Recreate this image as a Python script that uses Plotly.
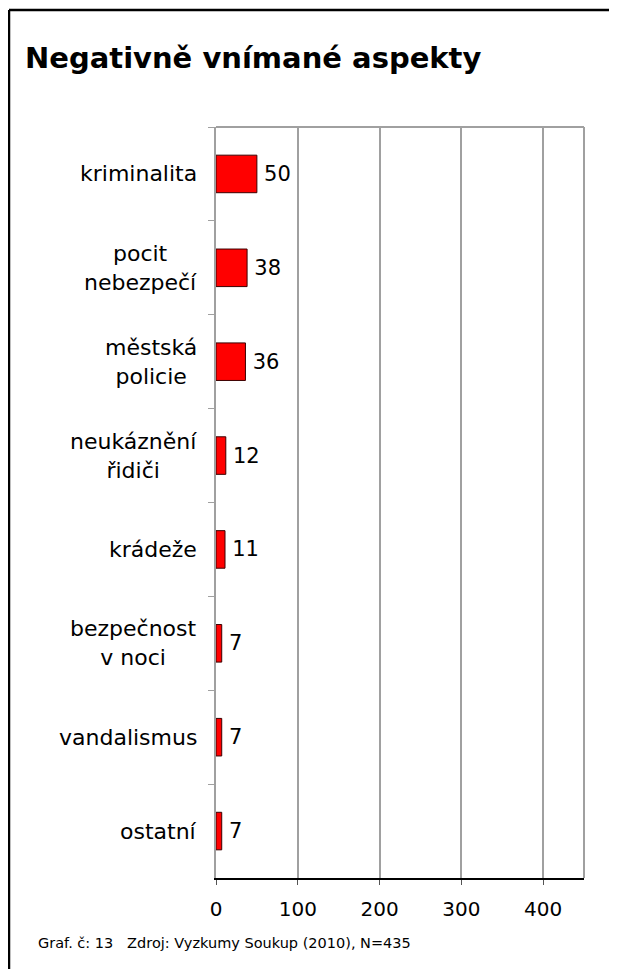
import plotly.graph_objects as go

categories = ["kriminalita", "pocit<br>nebezpečí", "městská<br>policie", "neukáznění<br>řidiči",
              "krádeže", "bezpečnost<br>v noci", "vandalismus", "ostatní"]
values = [50, 38, 36, 12, 11, 7, 7, 7]
x_ticks = [0, 100, 200, 300, 400]

W, H = 617, 969
OFF = 8  # page body margin
# plot area in page pixels: left 216, right 584, top 127, bottom 878
L, R, T, B = 216 - OFF, W - (584 - OFF), 127 - OFF, H - (878 - OFF)
pw, ph = W - L - R, H - T - B

def px_x(p):  # page pixel -> paper
    return (p - OFF - L) / pw

def px_y(p):
    return 1 - (p - OFF - T) / ph

font = "DejaVu Sans, Verdana, sans-serif"

fig = go.Figure(go.Bar(
    x=values, y=categories, orientation="h",
    marker=dict(color="#FF0000", line=dict(color="#3a0000", width=1)),
    text=["\u2009" + str(v) for v in values], textposition="outside",
    textfont=dict(size=21, color="black", family=font),
    cliponaxis=False, width=0.4,
))

shapes = [
    dict(type="line", xref="paper", yref="paper", x0=px_x(9), x1=px_x(640), y0=px_y(10), y1=px_y(10),
         line=dict(color="black", width=2.5)),
    dict(type="line", xref="paper", yref="paper", x0=px_x(9), x1=px_x(9), y0=px_y(10), y1=px_y(990),
         line=dict(color="black", width=2.5)),
    dict(type="line", xref="paper", yref="paper", x0=0, x1=1, y0=1, y1=1,
         line=dict(color="#a0a0a0", width=2), layer="below"),
    dict(type="line", xref="paper", yref="paper", x0=1, x1=1, y0=0, y1=1,
         line=dict(color="#a0a0a0", width=2), layer="below"),
]

annotations = []
for c in categories:
    annotations.append(dict(x=px_x(199), y=c, xref="paper", yref="y", text=c, showarrow=False,
                            xanchor="right", yanchor="middle", align="center",
                            font=dict(size=22, color="black", family=font)))
annotations.append(dict(x=px_x(36), y=px_y(943), xref="paper", yref="paper",
                        text="Graf. č: 13   Zdroj: Vyzkumy Soukup (2010), N=435",
                        showarrow=False, xanchor="left", yanchor="middle",
                        font=dict(size=14.5, color="black", family=font)))

fig.update_layout(
    width=W, height=H,
    margin=dict(l=L, r=R, t=T, b=B, pad=0),
    paper_bgcolor="white", plot_bgcolor="white",
    showlegend=False,
    title=dict(text="<b>Negativně vnímané aspekty</b>", x=(25 - OFF) / W, xref="container", xanchor="left",
               y=1 - (58 - OFF) / H, yref="container", yanchor="middle",
               font=dict(size=29, color="black", family=font)),
    xaxis=dict(range=[0, 450], tickvals=x_ticks, showgrid=True, gridcolor="#a0a0a0", gridwidth=2,
               showline=True, linecolor="black", linewidth=2, ticks="outside", ticklen=5,
               tickcolor="#555555", tickfont=dict(size=20, color="black", family=font),
               ticklabelstandoff=7, zeroline=False, fixedrange=True),
    yaxis=dict(autorange="reversed", showline=True, linecolor="#a0a0a0", linewidth=2,
               ticks="outside", tickson="boundaries", ticklen=6, tickcolor="#a0a0a0",
               showticklabels=False, showgrid=False, fixedrange=True),
    shapes=shapes, annotations=annotations,
)

fig.write_html("out.html")
